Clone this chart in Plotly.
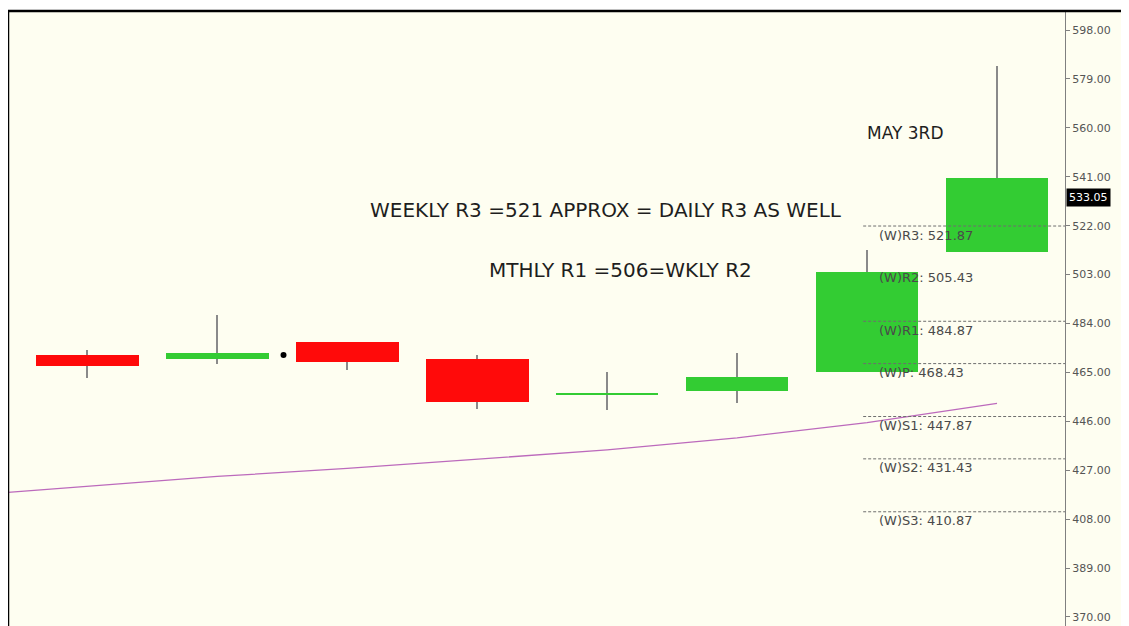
import plotly.graph_objects as go

# ---- data ----
candle_idx = [0, 1, 2, 3, 4, 5, 6, 7]
opens  = [471.8, 470.2, 476.8, 470.2, 456.1, 457.8, 465.2, 511.8]
highs  = [473.7, 487.3, 476.8, 471.8, 465.2, 472.6, 512.6, 584.0]
lows   = [462.9, 468.3, 466.0, 450.8, 450.4, 453.1, 465.2, 511.8]
closes = [467.5, 472.6, 469.1, 453.5, 457.1, 463.2, 504.0, 540.5]

ma_idx = [-1, 0, 1, 2, 3, 4, 5, 6, 7]
ma_vals = [416.9, 420.8, 424.6, 427.7, 431.2, 434.9, 439.6, 445.5, 453.0]

dot_idx = [1.51]
dot_vals = [471.8]

pivot_names = ["(W)R3", "(W)R2", "(W)R1", "(W)P", "(W)S1", "(W)S2", "(W)S3"]
pivot_levels = [521.87, 505.43, 484.87, 468.43, 447.87, 431.43, 410.87]
pivot_line_shown = [True, False, True, True, True, True, True]
pivot_start_idx = 5.97

tick_vals = [598, 579, 560, 541, 522, 503, 484, 465, 446, 427, 408, 389, 370]
tick_text = [f"{v:.2f}" for v in tick_vals]

last_price = 533.05

notes = [
    ("MAY 3RD", 6.29, 558.0, 17),
    ("WEEKLY R3 =521 APPROX = DAILY R3 AS WELL", 3.99, 528.1, 20),
    ("MTHLY R1 =506=WKLY R2", 4.1, 504.8, 20),
]

x_range = [-0.61, 7.523]
y_range = [366.5, 605.4]

# ---- styles ----
BG = "#FEFEF1"
RED = "#FF0A0A"
GREEN = "#33CC33"
WICK = "#8A8A8A"

bases = [min(o, c) for o, c in zip(opens, closes)]
heights = [abs(c - o) for o, c in zip(opens, closes)]
colors = [GREEN if c >= o else RED for o, c in zip(opens, closes)]

fig = go.Figure()

# wicks (thin bars, drawn below bodies)
fig.add_trace(go.Bar(
    x=candle_idx, y=[h - l for h, l in zip(highs, lows)], base=lows,
    width=0.009, marker=dict(color=WICK, line=dict(width=0)),
    hoverinfo="skip", showlegend=False,
))
# bodies
fig.add_trace(go.Bar(
    x=candle_idx, y=heights, base=bases, width=0.79,
    marker=dict(color=colors, line=dict(width=0)),
    showlegend=False,
))
# moving average
fig.add_trace(go.Scatter(
    x=ma_idx, y=ma_vals, mode="lines",
    line=dict(color="#BC6ABC", width=1.3), showlegend=False,
))
# dot
fig.add_trace(go.Scatter(
    x=dot_idx, y=dot_vals, mode="markers",
    marker=dict(color="black", size=6), showlegend=False,
))

shapes = []
annotations = []
for name, lvl, shown in zip(pivot_names, pivot_levels, pivot_line_shown):
    if shown:
        shapes.append(dict(type="line", xref="x", yref="y",
                           x0=pivot_start_idx, x1=x_range[1], y0=lvl, y1=lvl,
                           line=dict(color="#6E6E6E", width=1, dash="3px,2px")))
    annotations.append(dict(x=6.08, y=lvl, xref="x", yref="y", xanchor="left",
                            yanchor="middle", yshift=-9, showarrow=False,
                            text=f"{name}: {lvl:.2f}",
                            font=dict(family="DejaVu Sans", size=13, color="#4A4A4A")))

for txt, xi, yv, fs in notes:
    annotations.append(dict(x=xi, y=yv, xref="x", yref="y", showarrow=False,
                            text=txt, xanchor="center", yanchor="middle",
                            font=dict(family="DejaVu Sans", size=fs, color="#1E1E1E")))

annotations.append(dict(x=1, y=last_price, xref="paper", yref="y", xanchor="left",
                        yanchor="middle", xshift=1, showarrow=False,
                        text=f"{last_price:.2f}", bgcolor="black", borderpad=2,
                        font=dict(family="DejaVu Sans", size=11, color="white")))

# white top strip and frame
shapes += [
    dict(type="rect", xref="paper", yref="paper", x0=0, x1=1.07, y0=1.0, y1=1.01,
         fillcolor="white", line=dict(width=0), layer="below"),
    dict(type="line", xref="paper", yref="paper", x0=0, x1=1.07, y0=1.0, y1=1.0,
         line=dict(color="black", width=2.5)),
    dict(type="line", xref="paper", yref="paper", x0=0, x1=0, y0=0, y1=1.0,
         line=dict(color="black", width=2.5)),
]

fig.update_layout(
    width=1121, height=618,
    margin=dict(l=0, r=64, t=3, b=0),
    paper_bgcolor=BG, plot_bgcolor=BG,
    barmode="overlay", bargap=0,
    showlegend=False,
    shapes=shapes, annotations=annotations,
    xaxis=dict(range=x_range, visible=False, showgrid=False, zeroline=False),
    yaxis=dict(range=y_range, side="right", showgrid=False, zeroline=False,
               showline=True, linecolor="#808080", linewidth=1,
               ticks="outside", ticklen=4, tickcolor="#808080",
               tickvals=tick_vals, ticktext=tick_text,
               tickfont=dict(family="DejaVu Sans", size=11, color="#555555")),
)

fig.write_html("out.html")
